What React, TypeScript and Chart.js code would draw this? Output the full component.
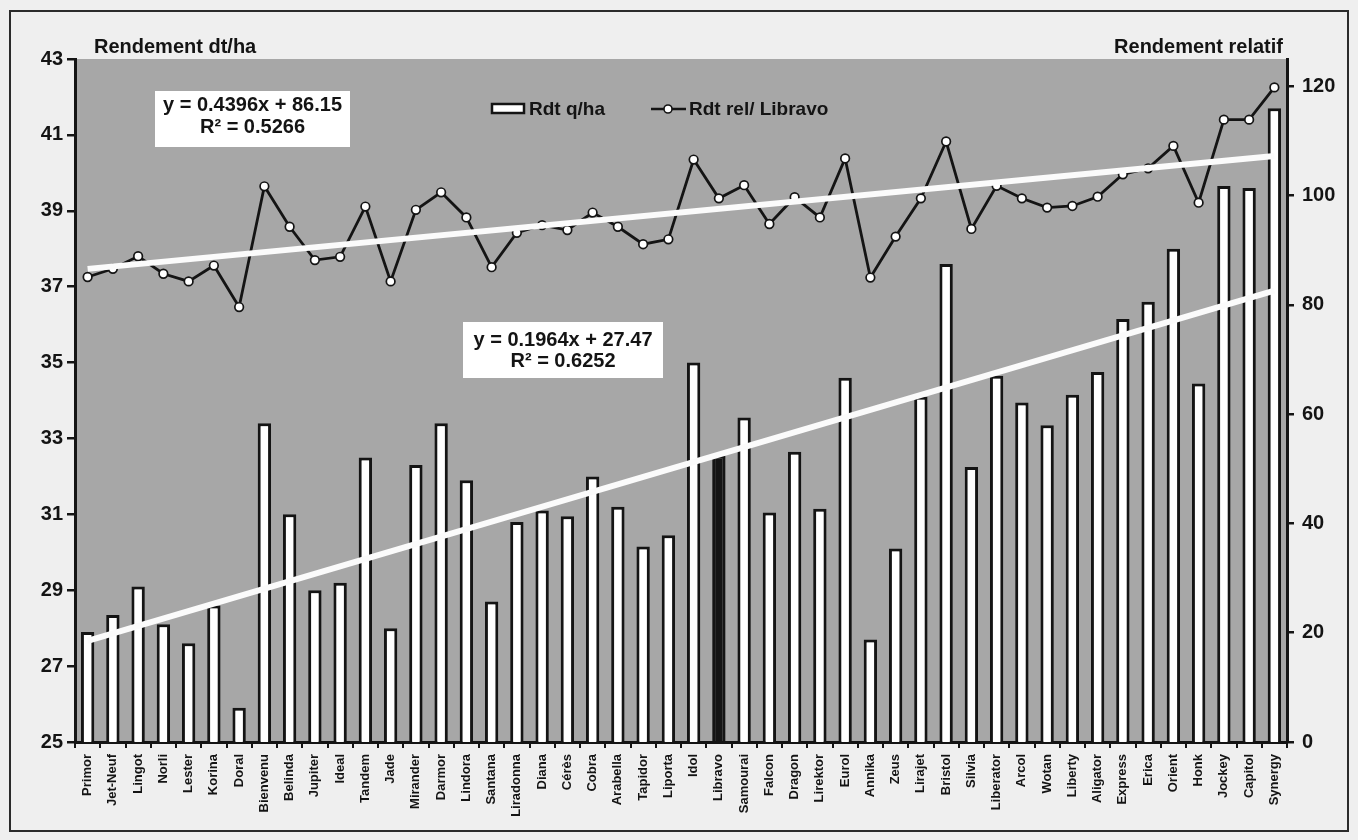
import React, { useEffect, useRef } from "react";
import { Chart, registerables } from "chart.js";

Chart.register(...registerables);

const varieties = [
  "Primor", "Jet-Neuf", "Lingot", "Norli", "Lester", "Korina", "Doral", "Bienvenu",
  "Belinda", "Jupiter", "Ideal", "Tandem", "Jade", "Mirander", "Darmor", "Lindora",
  "Santana", "Liradonna", "Diana", "Cérès", "Cobra", "Arabella", "Tapidor", "Liporta",
  "Idol", "Libravo", "Samourai", "Falcon", "Dragon", "Lirektor", "Eurol", "Annika",
  "Zeus", "Lirajet", "Bristol", "Silvia", "Liberator", "Arcol", "Wotan", "Liberty",
  "Aligator", "Express", "Erica", "Orient", "Honk", "Jockey", "Capitol", "Synergy",
];

const rdtQha = [
  27.9, 28.35, 29.1, 28.1, 27.6, 28.6, 25.9, 33.4,
  31.0, 29.0, 29.2, 32.5, 28.0, 32.3, 33.4, 31.9,
  28.7, 30.8, 31.1, 30.95, 32.0, 31.2, 30.15, 30.45,
  35.0, 32.55, 33.55, 31.05, 32.65, 31.15, 34.6, 27.7,
  30.1, 34.1, 37.6, 32.25, 34.65, 33.95, 33.35, 34.15,
  34.75, 36.15, 36.6, 38.0, 34.45, 39.65, 39.6, 41.7,
];

const rdtRel = [
  85.1, 86.6, 88.9, 85.7, 84.3, 87.2, 79.6, 101.7,
  94.3, 88.2, 88.8, 98.0, 84.3, 97.4, 100.6, 96.0,
  86.9, 93.2, 94.6, 93.7, 96.9, 94.3, 91.1, 92.0,
  106.6, 99.5, 101.9, 94.8, 99.7, 96.0, 106.8, 85.0,
  92.5, 99.5, 109.9, 93.9, 101.8, 99.5, 97.8, 98.1,
  99.8, 103.9, 105.0, 109.1, 98.7, 113.9, 113.9, 119.8,
];

// Trend line equations as printed on the chart
const trendRelCoef = [0.4396, 86.15];
const trendRdtCoef = [0.1964, 27.47];
const eqRelText = ["y = 0.4396x + 86.15", "R² = 0.5266"];
const eqRdtText = ["y = 0.1964x + 27.47", "R² = 0.6252"];

const leftTickMax = 43;
const leftTickMin = 25;
const rightTickMaxLabel = 120;

const referenceVariety = "Libravo";

const W = 1358;
const H = 840;
const PLOT_LEFT = 75;
const PLOT_RIGHT = 1287;
const PLOT_TOP = 59;
const PLOT_BOTTOM = 742;

const FONT = "'Liberation Sans', Arial, Helvetica, sans-serif";
const INK = "#141414";
const PLOT_BG = "#a7a7a7";
const PAGE_BG = "#efefef";

const trendEnds = (coef: number[]) =>
  varieties.map((_, i) =>
    i === 0 || i === varieties.length - 1 ? coef[0] * (i + 1) + coef[1] : null
  );

const decorPlugin = {
  id: "decor",
  beforeDraw(chart: any) {
    const { ctx, chartArea: a } = chart;
    ctx.save();
    ctx.fillStyle = PAGE_BG;
    ctx.fillRect(0, 0, W, H);
    ctx.strokeStyle = "#2b2b2b";
    ctx.lineWidth = 2;
    ctx.strokeRect(10, 11, W - 20, H - 20);
    ctx.fillStyle = PLOT_BG;
    ctx.fillRect(a.left, a.top, a.right - a.left, a.bottom - a.top);
    ctx.restore();
  },
  afterDraw(chart: any) {
    const { ctx } = chart;
    ctx.save();
    ctx.fillStyle = INK;
    ctx.textBaseline = "middle";
    // axis titles
    ctx.font = `bold 20px ${FONT}`;
    ctx.textAlign = "left";
    ctx.fillText("Rendement dt/ha", 94, 47);
    ctx.textAlign = "right";
    ctx.fillText("Rendement relatif", 1283, 47);

    // legend
    const ds = chart.data.datasets;
    ctx.font = `bold 19px ${FONT}`;
    ctx.textAlign = "left";
    ctx.fillStyle = "#ffffff";
    ctx.fillRect(492, 104, 32, 9);
    ctx.strokeStyle = INK;
    ctx.lineWidth = 2.5;
    ctx.strokeRect(492, 104, 32, 9);
    ctx.fillStyle = INK;
    ctx.fillText(ds[0].label, 529, 110);
    ctx.beginPath();
    ctx.moveTo(651, 109);
    ctx.lineTo(686, 109);
    ctx.lineWidth = 2.5;
    ctx.stroke();
    ctx.beginPath();
    ctx.arc(668, 109, 4, 0, Math.PI * 2);
    ctx.fillStyle = "#ffffff";
    ctx.fill();
    ctx.lineWidth = 1.6;
    ctx.stroke();
    ctx.fillStyle = INK;
    ctx.fillText(ds[1].label, 689, 110);

    // equation boxes
    const box = (x: number, y: number, w: number, h: number, lines: string[], ys: number[]) => {
      ctx.fillStyle = "#ffffff";
      ctx.fillRect(x, y, w, h);
      ctx.fillStyle = INK;
      ctx.font = `bold 20px ${FONT}`;
      ctx.textAlign = "center";
      lines.forEach((t, i) => ctx.fillText(t, x + w / 2, ys[i]));
    };
    box(155, 91, 195, 56, eqRelText, [105, 127]);
    box(463, 322, 200, 56, eqRdtText, [340, 361]);
    ctx.restore();
  },
};

export default function App() {
  const ref = useRef<HTMLCanvasElement | null>(null);

  useEffect(() => {
    if (!ref.current) return;
    Chart.defaults.font.family = FONT;
    const tickFont = { family: FONT, size: 20, weight: "bold" as const };
    const chart = new Chart(ref.current, {
      type: "bar",
      data: {
        labels: varieties,
        datasets: [
          {
            type: "bar",
            label: "Rdt q/ha",
            data: rdtQha,
            yAxisID: "y",
            backgroundColor: varieties.map((v) => (v === referenceVariety ? INK : "#ffffff")),
            borderColor: INK,
            borderWidth: 3,
            barPercentage: 0.53,
            categoryPercentage: 1,
            order: 4,
          } as any,
          {
            type: "line",
            label: "Rdt rel/ Libravo",
            data: rdtRel,
            yAxisID: "y1",
            borderColor: INK,
            borderWidth: 2.8,
            pointRadius: 4.3,
            pointBackgroundColor: "#ffffff",
            pointBorderColor: INK,
            pointBorderWidth: 1.7,
            tension: 0,
            order: 3,
          },
          {
            type: "line",
            label: "Tendance Rdt rel",
            data: trendEnds(trendRelCoef),
            yAxisID: "y1",
            borderColor: "#fbfbfb",
            borderWidth: 6,
            pointRadius: 0,
            spanGaps: true,
            order: 1,
          },
          {
            type: "line",
            label: "Tendance Rdt",
            data: trendEnds(trendRdtCoef),
            yAxisID: "y",
            borderColor: "#fbfbfb",
            borderWidth: 6,
            pointRadius: 0,
            spanGaps: true,
            order: 2,
          },
        ],
      },
      options: {
        responsive: false,
        animation: false,
        devicePixelRatio: 1,
        layout: { padding: { top: PLOT_TOP, left: 0, right: 0, bottom: 0 } },
        plugins: {
          legend: { display: false },
          tooltip: { enabled: false },
          title: { display: false },
        },
        scales: {
          x: {
            type: "category",
            offset: true,
            grid: {
              display: true,
              offset: true,
              drawOnChartArea: false,
              drawTicks: true,
              tickLength: 6,
              color: INK,
              lineWidth: 2,
            },
            border: { display: true, color: INK, width: 3 },
            ticks: {
              autoSkip: false,
              maxRotation: 90,
              minRotation: 90,
              padding: 6,
              color: INK,
              font: { family: FONT, size: 13, weight: "bold" },
            },
            afterFit(scale: any) {
              scale.height = H - PLOT_BOTTOM;
            },
          },
          y: {
            type: "linear",
            position: "left",
            min: leftTickMin,
            max: leftTickMax,
            ticks: { stepSize: 2, color: INK, font: tickFont, padding: 4 },
            grid: { drawOnChartArea: false, tickLength: 8, color: INK, lineWidth: 2.5 },
            border: { display: true, color: INK, width: 3 },
            afterFit(scale: any) {
              scale.width = PLOT_LEFT;
            },
          },
          y1: {
            type: "linear",
            position: "right",
            min: 0,
            max: 125,
            bounds: "data",
            ticks: { stepSize: 20, color: INK, font: tickFont, padding: 8 },
            grid: { drawOnChartArea: false, tickLength: 7, color: INK, lineWidth: 2.5 },
            border: { display: true, color: INK, width: 3 },
            afterBuildTicks(scale: any) {
              scale.ticks = scale.ticks.filter((t: any) => t.value <= rightTickMaxLabel);
            },
            afterFit(scale: any) {
              scale.width = W - PLOT_RIGHT;
            },
          },
        },
      },
      plugins: [decorPlugin],
    });
    return () => chart.destroy();
  }, []);

  return (
    <div style={{ position: "fixed", left: 0, top: 0, width: W, height: H, background: PAGE_BG }}>
      <canvas ref={ref} width={W} height={H} style={{ display: "block", width: W, height: H }} />
    </div>
  );
}
